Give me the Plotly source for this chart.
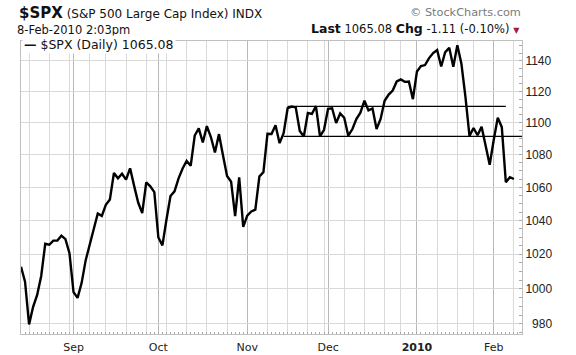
import plotly.graph_objects as go
import pandas as pd

# ---- data ----
holidays = ["2009-09-07", "2009-11-26", "2009-12-25", "2010-01-01", "2010-01-18"]
trade_dates = pd.bdate_range("2009-08-13", "2010-02-08", freq="C", holidays=holidays)

closes = [
    1012.73, 1004.09, 979.73, 989.67, 996.46, 1007.37, 1026.13, 1025.57, 1028.00, 1028.12, 1030.98, 1028.93, 1020.62,
    998.04, 994.75, 1003.24, 1016.40, 1025.39, 1033.37, 1044.14, 1042.73, 1049.34, 1052.63, 1068.76, 1065.49, 1068.30,
    1064.66, 1071.66, 1060.87, 1050.78, 1044.38, 1062.98, 1060.61, 1057.08,
    1029.85, 1025.21, 1040.46, 1054.72, 1057.58, 1065.48, 1071.49, 1076.19, 1073.19, 1092.02, 1096.56, 1087.68, 1097.91,
    1091.06, 1081.40, 1092.91, 1079.60, 1066.95, 1063.41, 1042.63, 1066.11, 1036.19,
    1042.88, 1045.41, 1046.50, 1066.63, 1069.30, 1093.08, 1093.01, 1098.51, 1087.24, 1093.48, 1109.30, 1110.32, 1109.80,
    1094.90, 1091.38, 1106.24, 1105.65, 1110.63, 1091.49, 1095.63,
    1108.86, 1109.24, 1099.92, 1105.98, 1103.25, 1091.94, 1095.95, 1102.35, 1106.41, 1114.11, 1107.93, 1109.18, 1096.08,
    1102.47, 1114.05, 1118.02, 1120.59, 1126.48, 1127.78, 1126.20, 1126.42, 1115.10,
    1132.99, 1136.52, 1137.14, 1141.69, 1144.98, 1146.98, 1136.22, 1145.68, 1148.46, 1136.03, 1150.23, 1138.04, 1116.48,
    1091.76, 1096.78, 1092.17, 1097.50, 1084.53, 1073.87,
    1089.19, 1103.32, 1097.28, 1063.11, 1066.19, 1065.08,
]

month_starts = ["2009-09-01", "2009-10-01", "2009-11-02", "2009-12-01", "2010-01-04", "2010-02-01"]
month_labels = ["Sep", "Oct", "Nov", "Dec", "<b>2010</b>", "Feb"]

y_ticks = [980, 1000, 1020, 1040, 1060, 1080, 1100, 1120, 1140]
y_tick_labels = ["\u2007980", "1000", "1020", "1040", "1060", "1080", "1100", "1120", "1140"]
y_minor = list(range(975, 1155, 5))

upper_line = {"start": "2009-11-16", "end": "2010-02-04", "level": 1110.5}
lower_line = {"start": "2009-11-13", "end": None, "level": 1091.5}

x_extent = 124  # trading-day slots shown

# ---- derived positions ----
idx = {d.strftime("%Y-%m-%d"): i for i, d in enumerate(trade_dates)}
xs = list(range(len(trade_dates)))
month_pos = [idx[m] for m in month_starts]
week_pos = [i for i in range(1, len(trade_dates))
            if trade_dates[i].isocalendar()[1] != trade_dates[i - 1].isocalendar()[1]]

fig = go.Figure()
fig.add_trace(go.Scatter(x=xs, y=closes, mode="lines",
                         line=dict(color="black", width=2.4), showlegend=False,
                         hoverinfo="skip"))
# helper trace for daily tick axis
fig.add_trace(go.Scatter(x=[], y=[], xaxis="x2", showlegend=False))

for ln in (upper_line, lower_line):
    x0 = idx[ln["start"]]
    x1 = idx[ln["end"]] if ln["end"] else x_extent
    fig.add_shape(type="line", xref="x", yref="y", x0=x0, x1=x1,
                  y0=ln["level"], y1=ln["level"], line=dict(color="black", width=1.3))

FONT = "DejaVu Sans"
fig.update_layout(
    width=576, height=355,
    margin=dict(l=21, r=54, t=41, b=21, autoexpand=False),
    paper_bgcolor="white", plot_bgcolor="white",
    xaxis=dict(
        range=[0, x_extent], tickmode="array", tickvals=month_pos, ticktext=month_labels,
        showgrid=True, gridcolor="#b8b8b8", gridwidth=1, ticks="", ticklabelstandoff=3,
        tickfont=dict(family=FONT, size=11, color="#222"), automargin=False,
        showline=True, linecolor="#c0c0c0", mirror=True, zeroline=False,
        minor=dict(tickmode="array", tickvals=week_pos, showgrid=True,
                   gridcolor="#d9d9d9", gridwidth=1, ticks=""),
    ),
    xaxis2=dict(
        overlaying="x", anchor="y", side="bottom", range=[0, x_extent],
        tickmode="linear", tick0=0, dtick=1, ticks="inside", ticklen=2, automargin=False,
        tickcolor="#a8a8a8", showticklabels=False, showgrid=False, zeroline=False,
    ),
    yaxis=dict(
        type="log", range=[2.98870, 3.06182], side="right", automargin=False,
        tickmode="array", tickvals=y_ticks, ticktext=y_tick_labels,
        showgrid=True, gridcolor="#d9d9d9", gridwidth=1,
        ticks="", tickfont=dict(family="Liberation Sans, Arial", size=12, color="#222"),
        showline=True, linecolor="#c0c0c0", mirror=True, zeroline=False,
        minor=dict(tickmode="array", tickvals=y_minor, ticks="inside", ticklen=3,
                   tickcolor="#a8a8a8", showgrid=False),
    ),
)

def px_x(px):
    return (px - 21) / 501.0

def px_y(py):
    return (334 - py) / 293.0

fig.add_annotation(xref="paper", yref="paper", x=px_x(17), y=px_y(12.5),
                   xanchor="left", yanchor="middle", showarrow=False,
                   text="<span style='font-size:15px'><b>$SPX</b></span> (S&P 500 Large Cap Index) INDX",
                   font=dict(family=FONT, size=12, color="#111"))
fig.add_annotation(xref="paper", yref="paper", x=px_x(15), y=px_y(30),
                   xanchor="left", yanchor="middle", showarrow=False,
                   text="8-Feb-2010 2:03pm", font=dict(family=FONT, size=11.5, color="#111"))
fig.add_annotation(xref="paper", yref="paper", x=px_x(408), y=px_y(13),
                   xanchor="left", yanchor="middle", showarrow=False,
                   text="\u00a9 StockCharts.com", font=dict(family=FONT, size=11.3, color="#7a7a7a"))
fig.add_annotation(xref="paper", yref="paper", x=px_x(522), y=px_y(28.5),
                   xanchor="right", yanchor="middle", showarrow=False,
                   text="<span style='font-size:12.5px'><b>Last</b></span> 1065.08 "
                        "<span style='font-size:12.5px'><b>Chg</b></span> -1.11 (-0.10%) "
                        "<span style='font-size:8px;color:#a3194b'>\u25bc</span>",
                   font=dict(family=FONT, size=11.5, color="#111"))
fig.add_annotation(xref="paper", yref="paper", x=px_x(22), y=px_y(44),
                   xanchor="left", yanchor="middle", showarrow=False,
                   bgcolor="white", borderpad=1,
                   text="<b>\u2014</b> $SPX (Daily) 1065.08",
                   font=dict(family=FONT, size=12.5, color="#111"))

fig.write_html("out.html")
